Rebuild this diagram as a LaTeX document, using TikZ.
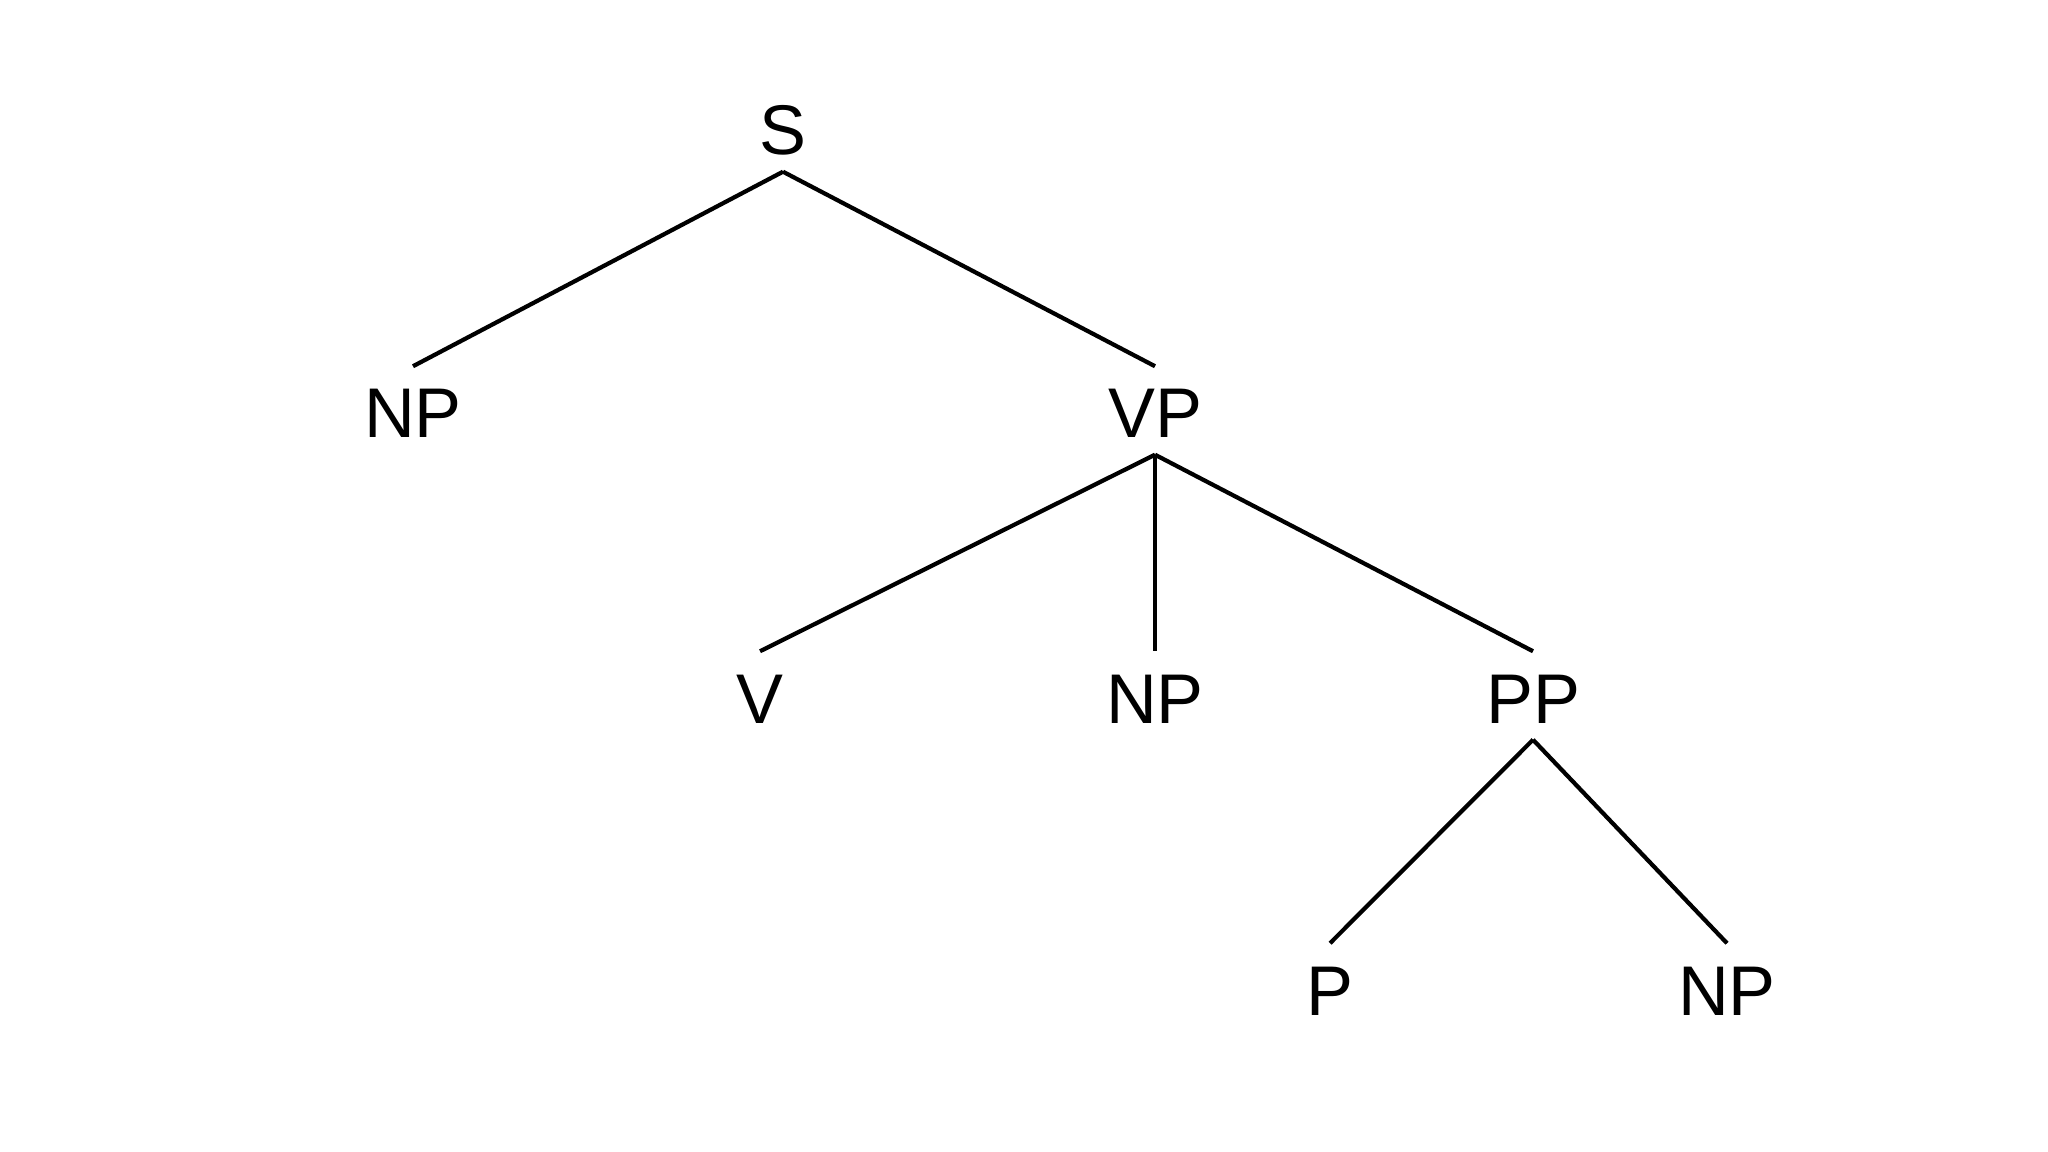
\documentclass[tikz,border=0pt]{standalone}
\usepackage{fontspec}
\setmainfont{Liberation Sans}
\usetikzlibrary{arrows}
\usetikzlibrary{positioning}

\begin{document}
\begin{tikzpicture}
	[x=0.01cm,y=-0.01cm,every node/.style={inner sep=0pt,anchor=base,text height=0.71cm,text depth=0.16cm,font=\fontsize{20}{24}\selectfont}]
	\useasboundingbox (0,0) rectangle (2048,1152);
	\node (s) at (783,155) {S};
	\node (np1) at (413,438) {NP};
	\node (vp) at (1155,438) {VP};
	\node (v) at (760,723) {V};
	\node (np2) at (1155,723) {NP};
	\node (pp) at (1533,723) {PP};
	\node (p) at (1330,1015) {P};
	\node (np3) at (1727,1015) {NP};
	
	\foreach \from/\to in 
	{s/np1, s/vp, vp/v, vp/np2, vp/pp, pp/p, pp/np3}
	\draw[line width=1.2pt] (\from.south) -- (\to.north);
	\end{tikzpicture}
\end{document}
